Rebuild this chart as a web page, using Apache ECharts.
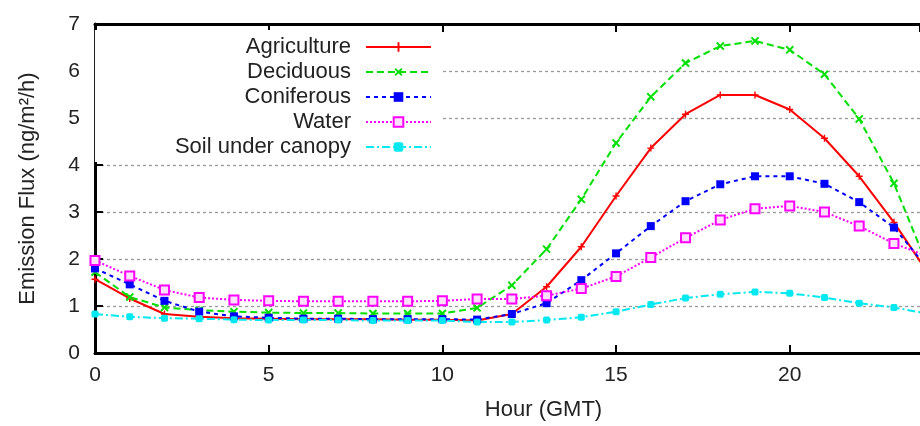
<!DOCTYPE html>
<html><head><meta charset="utf-8">
<script src="https://cdn.jsdelivr.net/npm/echarts@6/dist/echarts.min.js"></script>
<style>html,body{margin:0;padding:0;background:#fff}#c{width:920px;height:426px}</style>
</head><body><div id="c"></div>
<script>
const hours = [0,1,2,3,4,5,6,7,8,9,10,11,12,13,14,15,16,17,18,19,20,21,22,23,24];
const agriculture = [1.57,1.16,0.83,0.77,0.74,0.73,0.72,0.72,0.72,0.71,0.71,0.69,0.83,1.41,2.26,3.34,4.36,5.08,5.49,5.49,5.18,4.57,3.76,2.78,1.68];
const deciduous = [1.72,1.19,0.97,0.91,0.88,0.86,0.85,0.85,0.84,0.84,0.84,0.96,1.44,2.21,3.27,4.47,5.45,6.17,6.53,6.64,6.45,5.93,4.98,3.61,1.8];
const coniferous = [1.80,1.46,1.11,0.88,0.78,0.75,0.73,0.73,0.72,0.72,0.72,0.71,0.83,1.06,1.55,2.12,2.70,3.23,3.59,3.76,3.76,3.60,3.21,2.67,1.78];
const water = [1.97,1.64,1.34,1.18,1.13,1.11,1.10,1.10,1.10,1.10,1.11,1.15,1.15,1.22,1.37,1.63,2.03,2.45,2.83,3.07,3.13,3.00,2.70,2.33,2.05];
const soil = [0.83,0.77,0.74,0.73,0.71,0.70,0.70,0.70,0.69,0.69,0.69,0.66,0.66,0.70,0.76,0.88,1.03,1.17,1.25,1.30,1.27,1.18,1.06,0.97,0.83];
const seriesNames = ['Agriculture','Deciduous','Coniferous','Water','Soil under canopy'];
const xTitle = 'Hour (GMT)';
const yTitle = 'Emission Flux (ng/m\u00B2/h)';

const pair = arr => hours.map((h,i)=>[h,arr[i]]);
const FONT = 'Liberation Sans, Arial, sans-serif';
const plusPath = 'path://M4,0H6V4H10V6H6V10H4V6H0V4H4Z';

const chart = echarts.init(document.getElementById('c'), null, {renderer:'canvas'});
const axisCommon = {
  type:'value', min:0, max:23.75, interval:5,
  axisLine:{lineStyle:{color:'#000', width:3}},
  axisTick:{inside:true, length:8, lineStyle:{color:'#000', width:2}},
  splitLine:{show:false}
};
chart.setOption({
  animation:false,
  backgroundColor:'#fff',
  textStyle:{fontFamily:FONT},
  grid:{left:95, top:24, right:0, bottom:72},
  legend:{
    orient:'vertical', align:'right', right:478, top:30,
    padding:[6,10,4,80], backgroundColor:'#fff',
    itemWidth:65, itemHeight:12, itemGap:3,
    textStyle:{fontSize:22, color:'#222', fontFamily:FONT, padding:[0,10,0,0]},
    data:seriesNames
  },
  xAxis:[
    Object.assign({}, axisCommon, {
      position:'bottom',
      axisLabel:{fontSize:21, color:'#222', margin:12, showMaxLabel:false, fontFamily:FONT},
      name:xTitle, nameLocation:'middle', nameGap:46,
      nameTextStyle:{fontSize:22, color:'#222', padding:[0,0,0,72], fontFamily:FONT}
    }),
    Object.assign({}, axisCommon, {position:'top', axisLabel:{show:false}})
  ],
  yAxis:{
    type:'value', min:0, max:7, interval:1,
    axisLine:{show:true, lineStyle:{color:'#000', width:3}},
    axisTick:{show:true, inside:true, length:8, lineStyle:{color:'#000', width:2}},
    axisLabel:{fontSize:21, color:'#222', margin:15, fontFamily:FONT},
    splitLine:{show:true, lineStyle:{color:'#999', width:1.3, type:[3,3]}},
    name:yTitle, nameLocation:'middle', nameGap:56,
    nameTextStyle:{fontSize:22, color:'#222', fontFamily:FONT}
  },
  series:[
    {name:seriesNames[0], type:'line', data:pair(agriculture), symbol:plusPath, symbolSize:7,
     lineStyle:{color:'#ff0000', width:2}, itemStyle:{color:'#ff0000'}},
    {name:seriesNames[1], type:'line', data:pair(deciduous), symbol:plusPath, symbolSize:10, symbolRotate:45,
     lineStyle:{color:'#00e000', width:2, type:[7,4]}, itemStyle:{color:'#00e000'}},
    {name:seriesNames[2], type:'line', data:pair(coniferous), symbol:'rect', symbolSize:8,
     lineStyle:{color:'#0000ff', width:2, type:[4,4]}, itemStyle:{color:'#0000ff'}},
    {name:seriesNames[3], type:'line', data:pair(water), symbol:'rect', symbolSize:9,
     lineStyle:{color:'#ff00ff', width:2, type:[2,2]}, itemStyle:{color:'#ffe0ff', borderColor:'#ff00ff', borderWidth:2}},
    {name:seriesNames[4], type:'line', data:pair(soil), symbol:'roundRect', symbolSize:7,
     lineStyle:{color:'#00e8f0', width:2, type:[8,3,2,3]}, itemStyle:{color:'#00e8f0'}}
  ]
});
</script></body></html>
